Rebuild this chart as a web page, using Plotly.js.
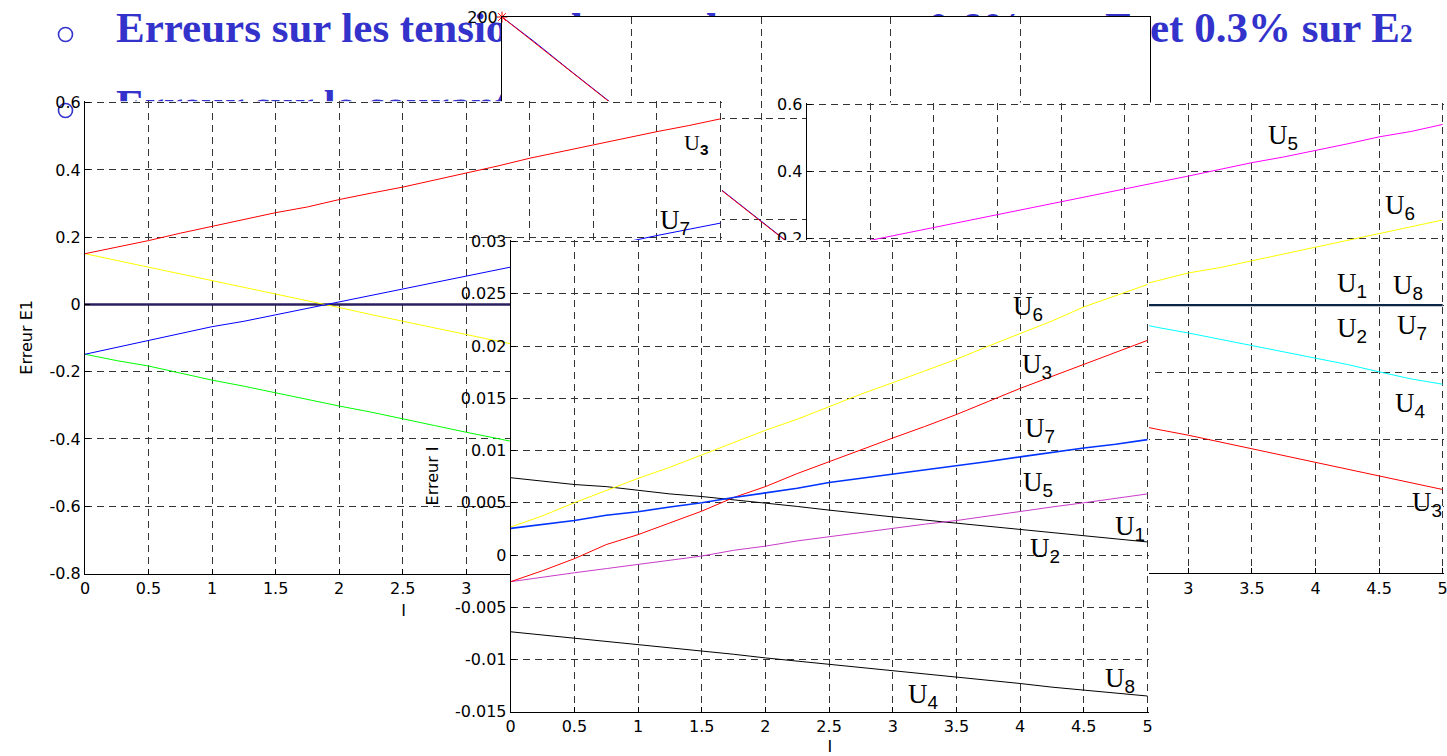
<!DOCTYPE html>
<html>
<head>
<meta charset="utf-8">
<script src="https://cdn.plot.ly/plotly-3.0.1.min.js"></script>
<style>
  html, body { margin: 0; padding: 0; background: #ffffff; overflow: hidden; }
  #chart { width: 1447px; height: 756px; }
</style>
</head>
<body>
<div id="chart"></div>
<script>
// ---- Courant de charge I (abscisse commune) ----
const courant = [0, 0.25, 0.5, 0.75, 1, 1.25, 1.5, 1.75, 2, 2.25, 2.5,
                 2.75, 3, 3.25, 3.5, 3.75, 4, 4.25, 4.5, 4.75, 5];

// ---- Tension (figure du fond) ----
const tensionMesuree = [200, 187.8, 174.9, 162.4, 149.7, 137.2, 124.5, 111.9, 99.3, 86.8, 74.2,
                        61.6, 49.0, 36.4, 23.8, 11.3, -1.3, -13.9, -26.4, -39.0, -51.5];
const tensionEstimee = [200, 187.5, 174.6, 162.1, 149.5, 136.8, 124.3, 111.6, 99.1, 86.5, 73.9,
                        61.3, 48.8, 36.1, 23.5, 11.0, -1.6, -14.2, -26.7, -39.3, -51.8];

// ---- Erreur E1, premier jeu de vecteurs ----
const e1Rouge = [0.151, 0.170, 0.190, 0.212, 0.232, 0.251, 0.273, 0.290, 0.312, 0.331, 0.349,
                 0.370, 0.390, 0.412, 0.435, 0.455, 0.474, 0.494, 0.514, 0.532, 0.552];
const e1Jaune = [0.151, 0.131, 0.113, 0.092, 0.072, 0.052, 0.031, 0.012, -0.009, -0.030, -0.050,
                 -0.068, -0.089, -0.110, -0.128, -0.148, -0.168, -0.188, -0.208, -0.227, -0.246];
const e1Bleu  = [-0.148, -0.127, -0.106, -0.087, -0.066, -0.050, -0.031, -0.012, 0.007, 0.028, 0.046,
                 0.066, 0.085, 0.104, 0.122, 0.142, 0.162, 0.185, 0.205, 0.223, 0.242];
const e1Vert  = [-0.148, -0.167, -0.183, -0.205, -0.225, -0.243, -0.263, -0.281, -0.302, -0.320, -0.341,
                 -0.360, -0.380, -0.398, -0.418, -0.437, -0.456, -0.476, -0.495, -0.514, -0.533];
const e1Nul   = [0, 0, 0, 0, 0, 0, 0, 0, 0, 0, 0, 0, 0, 0, 0, 0, 0, 0, 0, 0, 0];

// ---- Erreur E1, second jeu de vecteurs ----
const e1bMagenta = [0.155, 0.174, 0.194, 0.213, 0.231, 0.250, 0.270, 0.289, 0.307, 0.326, 0.346,
                    0.366, 0.385, 0.405, 0.425, 0.442, 0.461, 0.481, 0.502, 0.518, 0.539];
const e1bJaune   = [-0.148, -0.128, -0.108, -0.089, -0.068, -0.050, -0.030, -0.010, 0.008, 0.028, 0.048,
                    0.072, 0.096, 0.112, 0.132, 0.153, 0.174, 0.194, 0.214, 0.234, 0.254];
const e1bCyan    = [0.150, 0.130, 0.111, 0.091, 0.072, 0.052, 0.033, 0.013, -0.006, -0.026, -0.046,
                    -0.066, -0.083, -0.102, -0.120, -0.139, -0.157, -0.177, -0.199, -0.220, -0.236];
const e1bRouge   = [-0.152, -0.172, -0.190, -0.210, -0.230, -0.250, -0.270, -0.290, -0.310, -0.330, -0.350,
                    -0.370, -0.388, -0.408, -0.428, -0.448, -0.468, -0.489, -0.510, -0.530, -0.550];
const e1bNul     = [0, 0, 0, 0, 0, 0, 0, 0, 0, 0, 0, 0, 0, 0, 0, 0, 0, 0, 0, 0, 0];

// ---- Erreur sur le courant I ----
const errIU6 = [0.00268, 0.00375, 0.00501, 0.00620, 0.00734, 0.00840, 0.00958, 0.01080, 0.01194, 0.01300, 0.01418,
                0.01540, 0.01650, 0.01760, 0.01874, 0.02000, 0.02120, 0.02240, 0.02375, 0.02480, 0.02590];
const errIU3 = [-0.00255, -0.00150, -0.00035, 0.00100, 0.00195, 0.00310, 0.00420, 0.00550, 0.00655, 0.00780, 0.00895,
                0.01010, 0.01120, 0.01230, 0.01345, 0.01470, 0.01595, 0.01710, 0.01825, 0.01940, 0.02055];
const errIU7 = [0.00255, 0.00295, 0.00330, 0.00380, 0.00415, 0.00460, 0.00500, 0.00550, 0.00595, 0.00640, 0.00695,
                0.00735, 0.00775, 0.00815, 0.00850, 0.00895, 0.00940, 0.00985, 0.01025, 0.01060, 0.01105];
const errIU5 = [-0.00255, -0.00210, -0.00170, -0.00130, -0.00090, -0.00055, -0.00010, 0.00045, 0.00085, 0.00135, 0.00175,
                0.00220, 0.00260, 0.00295, 0.00330, 0.00375, 0.00415, 0.00460, 0.00500, 0.00545, 0.00585];
const errIU1 = [0.00740, 0.00705, 0.00675, 0.00655, 0.00620, 0.00585, 0.00560, 0.00530, 0.00495, 0.00465, 0.00430,
                0.00395, 0.00365, 0.00335, 0.00305, 0.00275, 0.00250, 0.00215, 0.00185, 0.00160, 0.00125];
const errIU8 = [-0.00735, -0.00765, -0.00800, -0.00825, -0.00855, -0.00890, -0.00920, -0.00950, -0.00985, -0.01015, -0.01045,
                -0.01080, -0.01110, -0.01140, -0.01170, -0.01200, -0.01230, -0.01265, -0.01295, -0.01320, -0.01350];

// ---- Graduations ----
const ticksI = [0, 0.5, 1, 1.5, 2, 2.5, 3, 3.5, 4, 4.5, 5];
const labelsI = ['0', '0.5', '1', '1.5', '2', '2.5', '3', '3.5', '4', '4.5', '5'];
const ticksIEntier = [0, 1, 2, 3, 4, 5];
const labelsIEntier = ['0', '1', '2', '3', '4', '5'];
const ticksTension = [-50, 0, 50, 100, 150, 200];
const labelsTension = ['-50', '0', '50', '100', '150', '200'];
const ticksE1 = [-0.8, -0.6, -0.4, -0.2, 0, 0.2, 0.4, 0.6];
const labelsE1 = ['-0.8', '-0.6', '-0.4', '-0.2', '0', '0.2', '0.4', '0.6'];
const ticksErrI = [-0.015, -0.01, -0.005, 0, 0.005, 0.01, 0.015, 0.02, 0.025, 0.03];
const labelsErrI = ['-0.015', '-0.01', '-0.005', '0', '0.005', '0.01', '0.015', '0.02', '0.025', '0.03'];

// ---- Texte de la diapositive ----
const puces = ['Erreurs sur les tensions des condensateurs : 0.6% sur E<span style="font-size:25px">1</span>',
               'et 0.3% sur E<span style="font-size:25px">2</span>',
               'Erreur sur le courant'];

// ---------------------------------------------------------------
const W = 1447, H = 756;
const xd = (left, right) => [left / W, right / W];
const yd = (top, bottom) => [1 - bottom / H, 1 - top / H];

const tickFont = { family: 'DejaVu Sans', size: 16, color: '#000000' };
const titleFont = { family: 'DejaVu Sans', size: 16, color: '#000000' };

function matlabAxis(extra) {
  return Object.assign({
    showgrid: true, gridcolor: '#333333', gridwidth: 1, griddash: '7px,5px',
    zeroline: false, showline: true, linecolor: '#000000', linewidth: 1,
    ticks: 'inside', ticklen: 5, tickcolor: '#000000', tickwidth: 1,
    tickfont: tickFont, tickmode: 'array', fixedrange: true, automargin: false,
    ticklabeloverflow: 'allow'
  }, extra);
}

function line(x, y, color, axes, width) {
  return { type: 'scatter', mode: 'lines', x: x, y: y,
           xaxis: axes[0], yaxis: axes[1],
           line: { color: color, width: width || 1 }, hoverinfo: 'skip' };
}

const traces = [
  // diapositive
  { type: 'scatter', mode: 'text', xaxis: 'x', yaxis: 'y',
    x: [116, 1150, 116], y: [31.6, 31.6, 107.8], text: puces,
    textposition: 'middle right', cliponaxis: false,
    textfont: { family: 'Liberation Serif', size: 43, color: '#3333cc', weight: 'bold' },
    hoverinfo: 'skip' },
  { type: 'scatter', mode: 'markers', xaxis: 'x', yaxis: 'y',
    x: [65.5, 65.5], y: [34.5, 110.5], cliponaxis: false,
    marker: { symbol: 'circle-open', size: 14, color: '#3333cc', line: { width: 1.6, color: '#3333cc' } },
    hoverinfo: 'skip' },

  // tension
  line(courant, tensionMesuree, '#0000ff', ['x2', 'y2']),
  line(courant, tensionEstimee, '#ff0000', ['x2', 'y2']),
  { type: 'scatter', mode: 'markers', xaxis: 'x2', yaxis: 'y2', x: [courant[0]], y: [tensionEstimee[0]],
    cliponaxis: false, marker: { symbol: 'asterisk-open', size: 9, color: '#ff0000', line: { width: 1, color: '#ff0000' } },
    hoverinfo: 'skip' },

  // erreur E1 (premier jeu)
  line(courant, e1Nul, '#2b1f5f', ['x3', 'y3'], 2.4),
  line(courant, e1Jaune, '#ffff00', ['x3', 'y3']),
  line(courant, e1Vert, '#00ff00', ['x3', 'y3']),
  line(courant, e1Bleu, '#0000ff', ['x3', 'y3']),
  line(courant, e1Rouge, '#ff0000', ['x3', 'y3']),

  // erreur E1 (second jeu)
  line(courant, e1bNul, '#0b2545', ['x4', 'y4'], 2.4),
  line(courant, e1bMagenta, '#ff00ff', ['x4', 'y4']),
  line(courant, e1bJaune, '#ffff00', ['x4', 'y4']),
  line(courant, e1bCyan, '#00ffff', ['x4', 'y4']),
  line(courant, e1bRouge, '#ff0000', ['x4', 'y4']),

  // erreur sur le courant
  line(courant, errIU1, '#000000', ['x5', 'y5']),
  line(courant, errIU8, '#000000', ['x5', 'y5']),
  line(courant, errIU5, '#c83cc8', ['x5', 'y5']),
  line(courant, errIU6, '#ffff00', ['x5', 'y5']),
  line(courant, errIU3, '#ff0000', ['x5', 'y5']),
  line(courant, errIU7, '#0033ff', ['x5', 'y5'], 1.6)
];

function etiquette(xref, yref, x, y, n, size, subStyle) {
  return { xref: xref, yref: yref, x: x, y: y, showarrow: false,
           xanchor: 'left', yanchor: 'middle',
           font: { family: 'Liberation Serif', size: size || 27, color: '#000000' },
           text: 'U<sub style="font-family:Liberation Sans, Arial, sans-serif' + (subStyle || '') + '">' + n + '</sub>' };
}

const annotations = [
  // premier jeu E1
  etiquette('x3', 'y3', 4.697, 0.4761, 3, 22, ';font-weight:bold'),
  etiquette('x3', 'y3', 4.508, 0.2441, 7),
  // second jeu E1
  etiquette('x4', 'y4', 3.611, 0.5012, 5),
  etiquette('x4', 'y4', 4.530, 0.2939, 6),
  etiquette('x4', 'y4', 4.153, 0.0597, 1),
  etiquette('x4', 'y4', 4.594, 0.0552, 8),
  etiquette('x4', 'y4', 4.153, -0.0731, 2),
  etiquette('x4', 'y4', 4.625, -0.0642, 7),
  etiquette('x4', 'y4', 4.609, -0.2983, 4),
  etiquette('x4', 'y4', 4.742, -0.5937, 3),
  // courant
  etiquette('x5', 'y5', 3.928, 0.02365, 6),
  etiquette('x5', 'y5', 3.999, 0.01810, 3),
  etiquette('x5', 'y5', 4.022, 0.01197, 7),
  etiquette('x5', 'y5', 4.007, 0.00680, 5),
  etiquette('x5', 'y5', 4.729, 0.00259, 1),
  etiquette('x5', 'y5', 4.062, 0.00048, 2),
  etiquette('x5', 'y5', 4.651, -0.01197, 8),
  etiquette('x5', 'y5', 3.104, -0.01350, 4)
];

const layout = {
  width: W, height: H,
  margin: { l: 0, r: 0, t: 0, b: 0, pad: 0 },
  paper_bgcolor: '#ffffff', plot_bgcolor: '#ffffff',
  showlegend: false, hovermode: false,

  // fond de diapositive
  xaxis: { domain: [0, 1], range: [0, W], visible: false, fixedrange: true },
  yaxis: { domain: [0, 1], range: [H, 0], visible: false, fixedrange: true },

  // tension
  xaxis2: matlabAxis({ domain: xd(502, 1150), range: [0, 5], anchor: 'y2', mirror: true,
                       tickvals: ticksIEntier, ticktext: labelsIEntier }),
  yaxis2: matlabAxis({ domain: yd(17, 524), range: [-50, 200], anchor: 'x2', mirror: true,
                       tickvals: ticksTension, ticktext: labelsTension }),

  // erreur E1 (premier jeu)
  xaxis3: matlabAxis({ domain: xd(85, 722), range: [0, 5.012], anchor: 'y3',
                       tickvals: ticksI, ticktext: labelsI,
                       title: { text: 'I', font: titleFont, standoff: 8 } }),
  yaxis3: matlabAxis({ domain: yd(101.2, 573.5), range: [-0.8, 0.6045], anchor: 'x3',
                       tickvals: ticksE1, ticktext: labelsE1,
                       title: { text: 'Erreur E1', font: titleFont, standoff: 12 } }),

  // erreur E1 (second jeu)
  xaxis4: matlabAxis({ domain: xd(806.7, 1444.2), range: [0, 5.012], anchor: 'y4',
                       tickvals: ticksI, ticktext: labelsI }),
  yaxis4: matlabAxis({ domain: yd(102.5, 573.3), range: [-0.8, 0.6045], anchor: 'x4',
                       tickvals: ticksE1, ticktext: labelsE1 }),

  // erreur sur le courant
  xaxis5: matlabAxis({ domain: xd(510.7, 1149), range: [0, 5.012], anchor: 'y5',
                       tickvals: ticksI, ticktext: labelsI,
                       title: { text: 'I', font: titleFont, standoff: 8 } }),
  yaxis5: matlabAxis({ domain: yd(240.1, 711.7), range: [-0.015, 0.03015], anchor: 'x5',
                       tickvals: ticksErrI, ticktext: labelsErrI,
                       title: { text: 'Erreur I', font: titleFont, standoff: 12 } }),

  annotations: annotations
};

Plotly.newPlot('chart', traces, layout, { staticPlot: true, displayModeBar: false });
</script>
</body>
</html>
